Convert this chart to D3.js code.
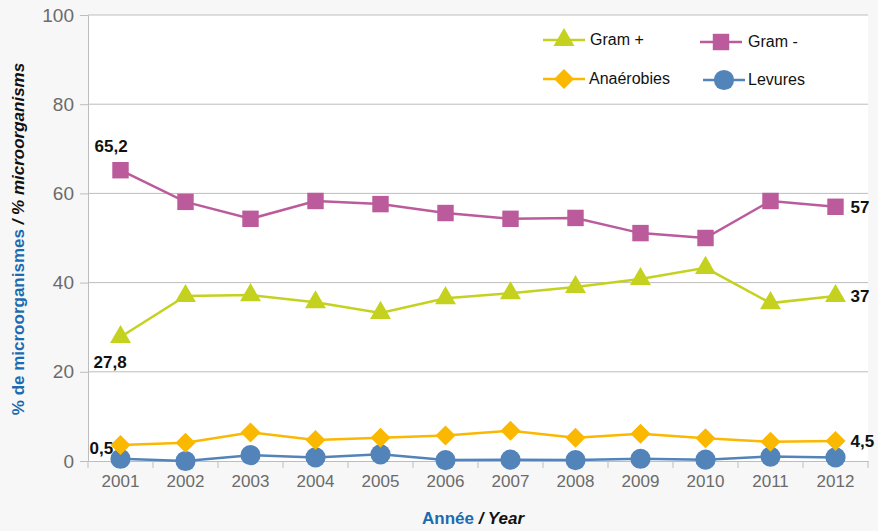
<!DOCTYPE html>
<html>
<head>
<meta charset="utf-8">
<script src="https://cdn.jsdelivr.net/npm/d3@7"></script>
<style>
  body { margin: 0; background: #f7f7f7; }
  svg { display: block; font-family: "Liberation Sans", Arial, sans-serif; }
</style>
</head>
<body>
<script>
// data
const years = ['2001','2002','2003','2004','2005','2006','2007','2008','2009','2010','2011','2012'];
const gramPlus = [27.8, 37.0, 37.2, 35.6, 33.2, 36.5, 37.6, 39.0, 40.8, 43.3, 35.4, 37];
const gramMinus = [65.2, 58.1, 54.3, 58.3, 57.6, 55.6, 54.3, 54.5, 51.1, 50.0, 58.3, 57];
const anaerobies = [3.6, 4.1, 6.4, 4.7, 5.2, 5.7, 6.8, 5.2, 6.1, 5.1, 4.3, 4.5];
const levures = [0.5, 0.0, 1.3, 0.8, 1.5, 0.2, 0.3, 0.2, 0.5, 0.3, 1.0, 0.8];
const yTicks = [0, 20, 40, 60, 80, 100];

const W = 878, H = 531;
const margin = {top: 15, right: 10, bottom: 70, left: 88};

const svg = d3.select('body').append('svg')
  .attr('width', W).attr('height', H);

const x = d3.scaleBand().domain(years).range([margin.left, W - margin.right]);
const y = d3.scaleLinear().domain([0, 100]).range([H - margin.bottom, margin.top]);

// white plot area
svg.append('rect')
  .attr('x', margin.left).attr('y', margin.top)
  .attr('width', W - margin.right - margin.left)
  .attr('height', y(0) - margin.top)
  .attr('fill', '#fff');

// gridlines
svg.append('g').selectAll('line')
  .data(yTicks.filter(d => d > 0))
  .enter().append('line')
  .attr('x1', margin.left).attr('x2', W - margin.right)
  .attr('y1', d => y(d)).attr('y2', d => y(d))
  .attr('stroke', '#bdbdbd').attr('stroke-width', 1);

// y axis
const yAxis = svg.append('g')
  .attr('transform', 'translate(' + margin.left + ',0)')
  .call(d3.axisLeft(y).tickValues(yTicks).tickSize(8).tickPadding(6));
yAxis.select('.domain').attr('stroke', '#bdbdbd');
yAxis.selectAll('.tick line').attr('stroke', '#bdbdbd');
yAxis.selectAll('text').attr('fill', '#6b6b6b').attr('font-size', 19);

// x axis
const xAxis = svg.append('g')
  .attr('transform', 'translate(0,' + y(0) + ')')
  .call(d3.axisBottom(x).tickSize(0).tickPadding(14));
xAxis.select('.domain').attr('stroke', '#bdbdbd');
xAxis.selectAll('text').attr('fill', '#6b6b6b').attr('font-size', 17);
// tick marks at band boundaries
xAxis.append('g').selectAll('line')
  .data(years.concat(['end']))
  .enter().append('line')
  .attr('x1', (d, i) => margin.left + i * x.step())
  .attr('x2', (d, i) => margin.left + i * x.step())
  .attr('y1', 0).attr('y2', 7)
  .attr('stroke', '#bdbdbd');

// axis titles
const xt = svg.append('text')
  .attr('x', 473).attr('y', 524)
  .attr('text-anchor', 'middle')
  .attr('font-size', 17).attr('font-weight', 'bold');
xt.append('tspan').attr('fill', '#1a6bb0').text('Année ');
xt.append('tspan').attr('fill', '#111').attr('font-style', 'italic').text('/ Year');

const yt = svg.append('text')
  .attr('transform', 'translate(24,' + 239 + ') rotate(-90)')
  .attr('text-anchor', 'middle')
  .attr('font-size', 17).attr('font-weight', 'bold');
yt.append('tspan').attr('fill', '#1a6bb0').text('% de microorganismes ');
yt.append('tspan').attr('fill', '#111').attr('font-style', 'italic').text('/ % microorganisms');

const series = [
  {name: 'Levures', values: levures, color: '#5283b9', shape: d3.symbolCircle, size: 320, rot: 0},
  {name: 'Anaérobies', values: anaerobies, color: '#fbb800', shape: d3.symbolSquare, size: 200, rot: 45},
  {name: 'Gram +', values: gramPlus, color: '#c4d21f', shape: d3.symbolTriangle, size: 190, rot: 0},
  {name: 'Gram -', values: gramMinus, color: '#bb5b9c', shape: d3.symbolSquare, size: 270, rot: 0}
];

const cx = d => x(d) + x.bandwidth() / 2;

series.forEach(s => {
  const line = d3.line()
    .x((d, i) => cx(years[i]))
    .y(d => y(d));
  svg.append('path')
    .datum(s.values)
    .attr('d', line)
    .attr('fill', 'none')
    .attr('stroke', s.color)
    .attr('stroke-width', 2.5);
  svg.append('g').selectAll('path')
    .data(s.values)
    .enter().append('path')
    .attr('d', d3.symbol().type(s.shape).size(s.size))
    .attr('transform', (d, i) => 'translate(' + cx(years[i]) + ',' + y(d) + ') rotate(' + s.rot + ')')
    .attr('fill', s.color);
});

// data labels for first and last values
function fmt(v) { return String(v).replace('.', ','); }
const labels = [
  {v: gramMinus[0], x: cx(years[0]) - 26, y: y(gramMinus[0]) - 18},
  {v: gramPlus[0], x: cx(years[0]) - 27, y: y(gramPlus[0]) + 31},
  {v: levures[0], x: cx(years[0]) - 31, y: y(levures[0]) - 5},
  {v: gramMinus[11], x: cx(years[11]) + 15, y: y(gramMinus[11]) + 6},
  {v: gramPlus[11], x: cx(years[11]) + 15, y: y(gramPlus[11]) + 6},
  {v: anaerobies[11], x: cx(years[11]) + 15, y: y(anaerobies[11]) + 6}
];
svg.append('g').selectAll('text')
  .data(labels)
  .enter().append('text')
  .attr('x', d => d.x).attr('y', d => d.y)
  .attr('font-size', 17).attr('font-weight', 'bold')
  .attr('fill', '#111')
  .text(d => fmt(d.v));

// legend
const legendItems = [
  {s: series[2], lx: 543, ly: 40, tx: 590},
  {s: series[3], lx: 700, ly: 42, tx: 748},
  {s: series[1], lx: 543, ly: 79, tx: 589},
  {s: series[0], lx: 703, ly: 80, tx: 748}
];
const leg = svg.append('g');
legendItems.forEach(it => {
  leg.append('line')
    .attr('x1', it.lx).attr('x2', it.lx + 42)
    .attr('y1', it.ly).attr('y2', it.ly)
    .attr('stroke', it.s.color).attr('stroke-width', 2.5);
  leg.append('path')
    .attr('d', d3.symbol().type(it.s.shape).size(it.s.size))
    .attr('transform', 'translate(' + (it.lx + 21) + ',' + it.ly + ') rotate(' + it.s.rot + ')')
    .attr('fill', it.s.color);
  leg.append('text')
    .attr('x', it.tx).attr('y', it.ly + 5)
    .attr('font-size', 16).attr('fill', '#111')
    .text(it.s.name);
});
</script>
</body>
</html>
